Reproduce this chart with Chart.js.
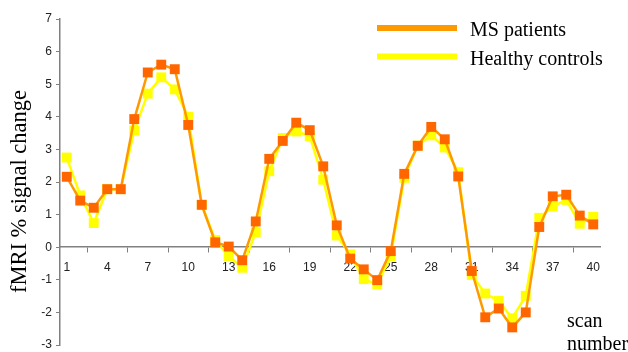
<!DOCTYPE html>
<html><head><meta charset="utf-8">
<script src="https://cdn.jsdelivr.net/npm/chart.js@4/dist/chart.umd.min.js"></script>
<style>html,body{margin:0;padding:0;background:#fff;}#wrap{width:628px;height:352px;position:relative;}</style>
</head><body><div id="wrap"><canvas id="c" width="628" height="352"></canvas></div>
<script>
const scans = ['1','2','3','4','5','6','7','8','9','10','11','12','13','14','15','16','17','18','19','20','21','22','23','24','25','26','27','28','29','30','31','32','33','34','35','36','37','38','39','40'];
const msPatients = [2.16, 1.43, 1.21, 1.78, 1.78, 3.93, 5.36, 5.60, 5.46, 3.75, 1.30, 0.15, 0.02, -0.40, 0.79, 2.71, 3.26, 3.82, 3.59, 2.48, 0.67, -0.35, -0.68, -1.01, -0.12, 2.25, 3.11, 3.69, 3.31, 2.17, -0.73, -2.15, -1.88, -2.46, -2.00, 0.62, 1.56, 1.61, 0.97, 0.70];
const healthyControls = [2.75, 1.59, 0.74, 1.78, 1.78, 3.58, 4.71, 5.21, 4.84, 4.00, 1.30, 0.22, -0.27, -0.63, 0.46, 2.33, 3.35, 3.55, 3.41, 2.07, 0.36, -0.22, -0.98, -1.14, -0.27, 2.13, 3.12, 3.43, 3.06, 2.30, -0.85, -1.42, -1.65, -2.18, -1.49, 0.90, 1.25, 1.45, 0.72, 0.93];
const labeledScans = ['1','4','7','10','13','16','19','22','25','28','31','34','37','40'];
const seriesNames = ['MS patients', 'Healthy controls'];
const yAxisTitle = 'fMRI % signal change';
const xAxisTitle = ['scan', 'number'];
const yMin = -3, yMax = 7, yStep = 1;

const MS_LINE = '#FF9900', MS_MARK = '#FF6600', HC_LINE = '#FFFF00', HC_MARK = '#FFFF00';
const SERIF = "'Liberation Serif', 'Times New Roman', serif";
const SANS = "'Liberation Sans', Arial, sans-serif";

const annotations = {
  id: 'annotations',
  afterDraw(chart) {
    const ctx = chart.ctx;
    ctx.save();
    const items = [
      {name: seriesNames[0], color: MS_LINE, y: 28},
      {name: seriesNames[1], color: HC_LINE, y: 56.5}
    ];
    ctx.font = '20px ' + SERIF;
    ctx.textBaseline = 'alphabetic';
    ctx.textAlign = 'left';
    items.forEach(it => {
      ctx.strokeStyle = it.color;
      ctx.lineWidth = 6;
      ctx.beginPath();
      ctx.moveTo(377, it.y);
      ctx.lineTo(457, it.y);
      ctx.stroke();
      ctx.fillStyle = '#000';
      ctx.fillText(it.name, 470, it.y + 8);
    });
    ctx.fillText(xAxisTitle[0], 567, 327);
    ctx.fillText(xAxisTitle[1], 567, 350);
    ctx.translate(20, 191.5);
    ctx.rotate(-Math.PI / 2);
    ctx.font = '22.5px ' + SERIF;
    ctx.textAlign = 'center';
    ctx.textBaseline = 'middle';
    ctx.fillText(yAxisTitle, 0, 0);
    ctx.restore();
  }
};

new Chart(document.getElementById('c'), {
  type: 'line',
  data: {
    labels: scans,
    datasets: [
      {label: seriesNames[0], data: msPatients, borderColor: MS_LINE, backgroundColor: MS_MARK,
       borderWidth: 2.5, pointStyle: 'rect', pointRadius: 7, pointHoverRadius: 7,
       pointBackgroundColor: MS_MARK, pointBorderColor: MS_MARK, pointBorderWidth: 0, tension: 0, fill: false},
      {label: seriesNames[1], data: healthyControls, borderColor: HC_LINE, backgroundColor: HC_MARK,
       borderWidth: 2.5, pointStyle: 'rect', pointRadius: 7, pointHoverRadius: 7,
       pointBackgroundColor: HC_MARK, pointBorderColor: HC_MARK, pointBorderWidth: 0, tension: 0, fill: false}
    ]
  },
  options: {
    responsive: false,
    animation: false,
    devicePixelRatio: 1,
    layout: {padding: {top: 19, bottom: 3, left: 0, right: 28}},
    plugins: {legend: {display: false}, tooltip: {enabled: false}},
    scales: {
      x: {
        type: 'category',
        position: {y: 0},
        offset: true,
        grid: {offset: true, drawOnChartArea: false, drawTicks: true, tickLength: 5, color: '#808080', lineWidth: 1},
        border: {color: '#808080', width: 1.5},
        ticks: {
          autoSkip: false, maxRotation: 0, minRotation: 0, padding: 8,
          color: '#222', font: {family: SANS, size: 12},
          callback: function(v, i) { const l = scans[i]; return labeledScans.includes(l) ? l : null; }
        },
        afterFit: function(scale) { scale.paddingLeft = 0; scale.paddingRight = 0; scale.paddingTop = 0; scale.paddingBottom = 0; scale.height = 0; }
      },
      y: {
        min: yMin, max: yMax,
        grid: {drawOnChartArea: false, drawTicks: true, tickLength: 4, color: '#808080'},
        border: {color: '#808080', width: 1.5},
        ticks: {stepSize: yStep, padding: 4, color: '#222', font: {family: SANS, size: 12}},
        afterFit: function(scale) { scale.width = 60; scale.paddingTop = 0; scale.paddingBottom = 0; }
      }
    }
  },
  plugins: [annotations]
});
</script></body></html>
